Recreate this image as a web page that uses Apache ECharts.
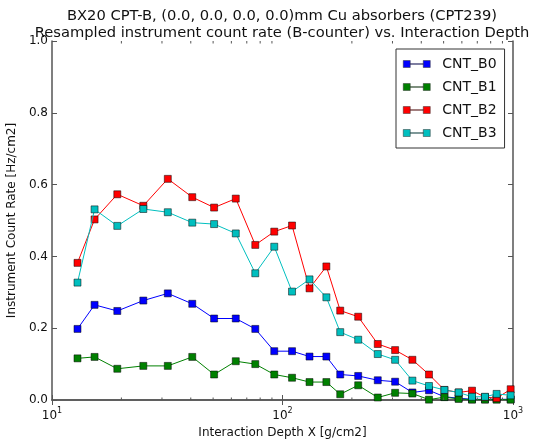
<!DOCTYPE html>
<html>
<head>
<meta charset="utf-8">
<script src="https://cdn.jsdelivr.net/npm/echarts@6/dist/echarts.min.js"></script>
<style>
  html, body { margin: 0; padding: 0; background: #fff; }
  #chart { width: 536px; height: 439px; }
</style>
</head>
<body>
<div id="chart"></div>
<script>
// interaction depth bins [g/cm2]
const depth = [12.9, 15.3, 19.2, 24.9, 31.8, 40.6, 50.5, 62.7, 76.2, 92.1, 110, 131, 155, 178, 213,
               259, 308, 366, 432, 504, 581, 664, 756, 849, 977];
const cntB0 = [0.198, 0.265, 0.248, 0.277, 0.297, 0.268, 0.227, 0.227, 0.198, 0.136, 0.136, 0.121, 0.121,
               0.071, 0.067, 0.055, 0.051, 0.021, 0.027, 0.009, 0.005, 0.002, 0.002, 0.002, 0.002];
const cntB1 = [0.116, 0.120, 0.087, 0.095, 0.095, 0.120, 0.071, 0.108, 0.100, 0.071, 0.062, 0.050, 0.050,
               0.016, 0.041, 0.007, 0.020, 0.018, 0.001, 0.008, 0.003, 0.001, 0.001, 0.001, 0.001];
const cntB2 = [0.382, 0.503, 0.573, 0.541, 0.616, 0.565, 0.536, 0.561, 0.432, 0.469, 0.486, 0.311, 0.372,
               0.249, 0.232, 0.156, 0.139, 0.112, 0.071, 0.028, 0.021, 0.026, 0.008, 0.005, 0.030];
const cntB3 = [0.327, 0.531, 0.485, 0.532, 0.523, 0.494, 0.490, 0.464, 0.353, 0.427, 0.302, 0.336, 0.286,
               0.189, 0.168, 0.128, 0.112, 0.054, 0.039, 0.028, 0.021, 0.009, 0.009, 0.017, 0.013];
const names = ['CNT_B0', 'CNT_B1', 'CNT_B2', 'CNT_B3'];
const colors = ['#0000ff', '#008000', '#ff0000', '#00bfbf'];
const minorX = [20, 30, 40, 50, 60, 70, 80, 90, 200, 300, 400, 500, 600, 700, 800, 900];

const font = 'DejaVu Sans';
const axisCol = '#555';
const legendIcon = 'path://M0,0h7v7h-7z M20,0h7v7h-7z M7,3.2h13v0.6h-13z';

let chart = echarts.init(document.getElementById('chart'));

let series = [cntB0, cntB1, cntB2, cntB3].map(function (vals, k) {
    return {
        name: names[k],
        type: 'line',
        data: depth.map(function (x, i) { return [x, vals[i]]; }),
        symbol: 'rect',
        symbolSize: 7,
        color: colors[k],
        lineStyle: { width: 1, color: colors[k] },
        itemStyle: { color: colors[k], borderColor: '#000', borderWidth: 0.5 },
        animation: false,
        z: 3 + k
    };
});

// minor ticks on the log axis (bottom + top)
series.push({
    type: 'custom',
    silent: true,
    data: minorX.map(function (x) { return [x]; }),
    encode: { x: 0 },
    renderItem: function (params, api) {
        let b = api.coord([api.value(0), 0]);
        let t = api.coord([api.value(0), 1]);
        return {
            type: 'group',
            children: [
                { type: 'line', shape: { x1: b[0], y1: b[1], x2: b[0], y2: b[1] - 2.5 }, style: { stroke: axisCol, lineWidth: 1 } },
                { type: 'line', shape: { x1: t[0], y1: t[1], x2: t[0], y2: t[1] + 2.5 }, style: { stroke: axisCol, lineWidth: 1 } }
            ]
        };
    },
    animation: false,
    z: 10
});

chart.setOption({
    textStyle: { fontFamily: font },
    title: {
        text: 'BX20 CPT-B, (0.0, 0.0, 0.0, 0.0)mm Cu absorbers (CPT239)\nResampled instrument count rate (B-counter) vs. Interaction Depth',
        left: 277,
        textAlign: 'center',
        top: 3,
        textStyle: { fontSize: 14.7, fontWeight: 'normal', color: '#111', lineHeight: 16.5, fontFamily: font }
    },
    legend: {
        orient: 'vertical',
        left: 396,
        top: 49,
        data: names,
        icon: legendIcon,
        itemWidth: 27,
        itemHeight: 7,
        itemGap: 9,
        padding: [8, 8, 8, 7],
        borderColor: '#333',
        borderWidth: 1,
        backgroundColor: '#fff',
        itemStyle: { borderColor: '#333', borderWidth: 0.5 },
        textStyle: { fontSize: 14, color: '#111', fontFamily: font, padding: [0, 0, 0, 7] }
    },
    grid: { left: 52, right: 23, top: 41, bottom: 39, outerBoundsMode: 'none' },
    xAxis: [{
        type: 'log',
        logBase: 10,
        min: 10,
        max: 1000,
        name: 'Interaction Depth X [g/cm2]',
        nameLocation: 'middle',
        nameGap: 26,
        nameTextStyle: { fontSize: 12, color: '#111', fontFamily: font },
        axisLine: { lineStyle: { color: axisCol, width: 1.5 } },
        axisTick: { inside: true, length: 5, lineStyle: { color: axisCol } },
        splitLine: { show: false },
        axisLabel: {
            margin: 6,
            color: '#111',
            fontSize: 12,
            formatter: function (v) {
                return '{b|10}{s|' + Math.round(Math.log10(v)) + '}';
            },
            rich: {
                b: { fontSize: 12, color: '#111', fontFamily: font, padding: [4, 0, 0, 0] },
                s: { fontSize: 8, color: '#111', fontFamily: font, padding: [0, 0, 6, 0] }
            }
        }
    }, {
        type: 'log',
        logBase: 10,
        min: 10,
        max: 1000,
        position: 'top',
        axisLine: { lineStyle: { color: axisCol, width: 1.5 } },
        axisTick: { inside: true, length: 5, lineStyle: { color: axisCol } },
        axisLabel: { show: false },
        splitLine: { show: false }
    }],
    yAxis: [{
        type: 'value',
        min: 0,
        max: 1.0,
        interval: 0.2,
        name: 'Instrument Count Rate [Hz/cm2]',
        nameLocation: 'middle',
        nameGap: 28,
        nameTextStyle: { fontSize: 12, color: '#111', fontFamily: font },
        axisLine: { show: true, lineStyle: { color: axisCol, width: 1.5 } },
        axisTick: { show: true, inside: true, length: 5, lineStyle: { color: axisCol } },
        splitLine: { show: false },
        axisLabel: {
            margin: 4,
            color: '#111',
            fontSize: 12,
            formatter: function (v) { return v.toFixed(1); }
        }
    }, {
        type: 'value',
        min: 0,
        max: 1.0,
        interval: 0.2,
        position: 'right',
        axisLine: { show: true, lineStyle: { color: axisCol, width: 1.5 } },
        axisTick: { show: true, inside: true, length: 5, lineStyle: { color: axisCol } },
        axisLabel: { show: false },
        splitLine: { show: false }
    }],
    series: series
});
</script>
</body>
</html>
